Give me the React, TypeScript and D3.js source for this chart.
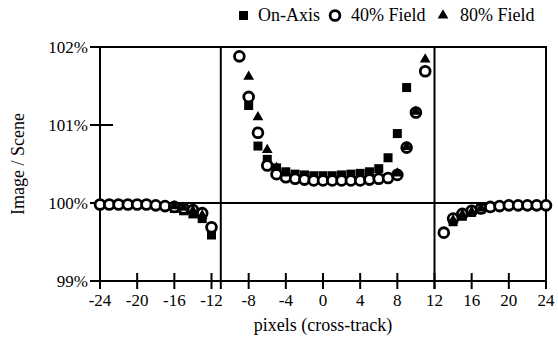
import React from "react";
import * as d3 from "d3";

// ---- data ----
const xTicks = [-24, -20, -16, -12, -8, -4, 0, 4, 8, 12, 16, 20, 24];
const yTicks = [99, 100, 101, 102];
const yTickLabels = ["99%", "100%", "101%", "102%"];
const dividers = [-11, 12];

// On-Axis (squares)
const onAxisX = [-16, -15, -14, -13, -12, -8, -7, -6, -5, -4, -3, -2, -1, 0, 1, 2, 3, 4, 5, 6, 7, 8, 9, 14, 15, 16, 17, 18];
const onAxisY = [99.93, 99.9, 99.86, 99.8, 99.59, 101.25, 100.73, 100.56, 100.45, 100.4, 100.37, 100.36, 100.35, 100.35, 100.35, 100.36, 100.37, 100.38, 100.4, 100.44, 100.58, 100.89, 101.48, 99.76, 99.83, 99.88, 99.92, 99.94];

// 40% Field (circles)
const field40X = [-24, -23, -22, -21, -20, -19, -18, -17, -16, -15, -14, -13, -12, -9, -8, -7, -6, -5, -4, -3, -2, -1, 0, 1, 2, 3, 4, 5, 6, 7, 8, 9, 10, 11, 13, 14, 15, 16, 17, 18, 19, 20, 21, 22, 23, 24];
const field40Y = [99.98, 99.98, 99.98, 99.98, 99.98, 99.98, 99.97, 99.96, 99.95, 99.93, 99.91, 99.87, 99.69, 101.88, 101.36, 100.9, 100.48, 100.37, 100.33, 100.31, 100.3, 100.29, 100.29, 100.29, 100.29, 100.29, 100.29, 100.3, 100.31, 100.32, 100.36, 100.71, 101.16, 101.69, 99.62, 99.8, 99.86, 99.9, 99.93, 99.95, 99.96, 99.97, 99.97, 99.97, 99.97, 99.97];

// 80% Field (triangles)
const field80X = [-16, -15, -14, -13, -8, -7, -6, -5, -4, 8, 9, 10, 11, 14, 15, 16, 17];
const field80Y = [99.96, 99.94, 99.9, 99.84, 101.62, 101.1, 100.68, 100.45, 100.38, 100.38, 100.72, 101.17, 101.84, 99.78, 99.85, 99.89, 99.93];

const legendLabels = ["On-Axis", "40% Field", "80% Field"];

const W = 558;
const H = 341;
const FONT = "'Liberation Serif', 'Times New Roman', serif";

export default function App() {
  const x = d3.scaleLinear().domain([-24, 24]).range([100, 546]);
  const y = d3.scaleLinear().domain([99, 102]).range([281, 47]);
  const tri = d3.symbol().type(d3.symbolTriangle).size(50)() as string;
  const sq = 9;
  const sw = 2;
  const cr = 4.9;
  const csw = 2.8;

  return (
    <svg width={W} height={H} style={{ position: "absolute", left: 0, top: 0, background: "#fff" }}>
      <rect x={0} y={0} width={W} height={H} fill="#fff" />
      {/* legend */}
      <g fontFamily={FONT} fontSize={18} fill="#000">
        <rect x={239} y={11} width={9} height={9} fill="#000" />
        <text x={258} y={21}>{legendLabels[0]}</text>
        <circle cx={335} cy={15.5} r={cr} fill="#fff" stroke="#000" strokeWidth={csw} />
        <text x={351} y={21}>{legendLabels[1]}</text>
        <path d={tri} transform={`translate(${443},${15.5})`} fill="#000" />
        <text x={460} y={21}>{legendLabels[2]}</text>
      </g>

      {/* frame */}
      <g stroke="#000" strokeWidth={sw} fill="none">
        <rect x={x(-24)} y={y(102)} width={x(24) - x(-24)} height={y(99) - y(102)} />
        <line x1={90} x2={x(-24)} y1={y(102)} y2={y(102)} />
        <line x1={90} x2={x(24)} y1={y(100)} y2={y(100)} />
        <line x1={90} x2={x(-24) + 13} y1={y(101)} y2={y(101)} />
        <line x1={90} x2={x(-24)} y1={y(99)} y2={y(99)} />
        {dividers.map((d) => (
          <line key={d} x1={x(d)} x2={x(d)} y1={y(102)} y2={y(99) + 8} />
        ))}
        {xTicks.map((t) => (
          <line key={t} x1={x(t)} x2={x(t)} y1={y(99) - 8} y2={y(99) + 8} />
        ))}
      </g>

      {/* tick labels */}
      <g fontFamily={FONT} fontSize={17} fill="#000">
        {yTicks.map((t, i) => (
          <text key={t} x={88} y={y(t) + 6} textAnchor="end">
            {yTickLabels[i]}
          </text>
        ))}
        {xTicks.map((t) => (
          <text key={t} x={x(t)} y={306} textAnchor="middle">
            {t}
          </text>
        ))}
        <text x={x(0)} y={331} fontSize={18} textAnchor="middle">pixels (cross-track)</text>
        <text transform={`translate(24,${y(100.5)}) rotate(-90)`} fontSize={18} textAnchor="middle">
          Image / Scene
        </text>
      </g>

      {/* markers */}
      <g>
        {onAxisX.map((v, i) => (
          <rect key={"s" + i} x={x(v) - sq / 2} y={y(onAxisY[i]) - sq / 2} width={sq} height={sq} fill="#000" />
        ))}
        {field40X.map((v, i) => (
          <circle key={"c" + i} cx={x(v)} cy={y(field40Y[i])} r={cr} fill="#fff" stroke="#000" strokeWidth={csw} />
        ))}
        {field80X.map((v, i) => (
          <path key={"t" + i} d={tri} transform={`translate(${x(v)},${y(field80Y[i])})`} fill="#000" />
        ))}
      </g>
    </svg>
  );
}
